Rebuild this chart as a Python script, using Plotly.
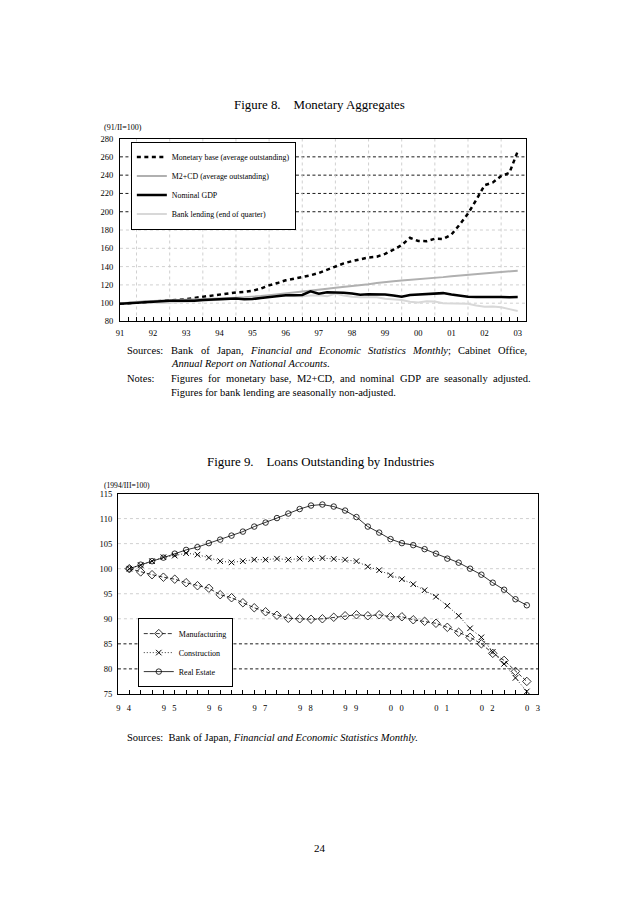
import re
import plotly.graph_objects as go

# ---------------- Figure 8 data (quarterly, 91/I .. 03/I) ----------------
fig8_quarter = list(range(49))
monetary_base = [99.5, 100, 100.8, 101.5, 102, 102.5, 103, 103.6, 104.3, 105.8,
                 107, 108.5, 110, 111.3, 111.8, 112.3, 113.5, 116, 119.5, 122,
                 125, 126.8, 128.5, 130.5, 133, 136.5, 140, 143.5, 146, 148,
                 150, 150.8, 154, 158.5, 163.5, 171.5, 168, 167.8, 170.5, 170.2,
                 175, 186, 198, 213, 229, 232, 239, 242.5, 266]
m2cd = [99.5, 100.5, 101.5, 102, 102.5, 102.8, 103, 103.2, 103.4, 103.8,
        104.2, 104.6, 105, 105.5, 106, 106.4, 106.8, 107.8, 108.8, 109.7,
        110.5, 111.4, 112.4, 113.6, 114.8, 115.8, 116.8, 117.6, 118.4, 119.6,
        120.8, 122.1, 123.4, 124.1, 124.8, 125.4, 126, 126.8, 127.6, 128.5,
        129.5, 130.3, 131, 131.6, 132.2, 133, 134, 134.8, 135.5]
nominal_gdp = [99.3, 100, 100.8, 101.3, 101.6, 102.2, 102.7, 102.5, 102.3, 102.8,
               103.4, 104, 104.5, 105, 105.2, 104.3, 104.5, 105.8, 107, 108.2,
               108.8, 108.8, 109, 113, 110.3, 112, 112, 111.5, 110.5, 109.2,
               109.8, 110, 109.5, 108.5, 107, 109, 109.5, 109.7, 110.5, 111,
               109.5, 108, 107, 106.8, 107, 107, 106.8, 106.6, 106.8]
bank_lending = [99.8, 101, 101.6, 101, 100.5, 100.3, 100.6, 101, 101.5, 102.2,
                102.7, 103.2, 103.8, 104.5, 105, 104.8, 105.5, 106.5, 107.5, 108,
                108, 107.8, 107.7, 108.3, 108.8, 107.5, 110.5, 108.5, 107, 106.5,
                106.2, 106.5, 104.8, 104, 103.5, 101.5, 100.8, 102, 101.8, 100,
                99.8, 99.6, 99.3, 97.5, 96, 96.3, 95.5, 93.5, 91.5]
fig8_xtick_pos = [0, 4, 8, 12, 16, 20, 24, 28, 32, 36, 40, 44, 48]
fig8_xtick_labels = ["91", "92", "93", "94", "95", "96", "97", "98", "99", "00", "01", "02", "03"]
fig8_vgrid = [2, 6, 10, 14, 18, 22, 26, 30, 34, 38, 42, 46]
fig8_yticks = [80, 100, 120, 140, 160, 180, 200, 220, 240, 260, 280]
fig8_light_grid = [100, 120, 140, 160, 180]
fig8_dark_grid = [200, 220, 240, 260]

# ---------------- Figure 9 data (quarterly, 94/III .. 03/II) ----------------
fig9_quarter = list(range(36))
manufacturing = [100.0, 99.35, 98.8, 98.3, 97.9, 97.2, 96.6, 96.1, 94.8, 94.2,
                 93.2, 92.2, 91.4, 90.7, 90.1, 90.0, 89.9, 90.0, 90.3, 90.6,
                 90.8, 90.6, 90.8, 90.4, 90.4, 89.8, 89.5, 89.1, 88.3, 87.3,
                 86.3, 85.0, 83.1, 81.7, 79.5, 77.5]
construction = [100.0, 100.7, 101.5, 102.3, 102.6, 103.1, 102.8, 102.2, 101.5, 101.25,
                101.5, 101.8, 101.8, 102.0, 101.8, 102.0, 101.9, 102.1, 101.95, 101.8,
                101.5, 100.4, 99.7, 98.7, 97.9, 96.9, 95.7, 94.4, 92.6, 90.6,
                88.1, 86.3, 83.4, 81.0, 78.2, 75.5]
real_estate = [100.0, 100.8, 101.5, 102.2, 103.0, 103.75, 104.3, 105.1, 105.8, 106.6,
               107.4, 108.4, 109.2, 110.1, 111.0, 111.9, 112.6, 112.8, 112.4, 111.6,
               110.3, 108.4, 107.2, 105.9, 105.1, 104.7, 103.9, 103.0, 102.0, 101.2,
               100.0, 98.8, 97.2, 95.8, 93.9, 92.7]
fig9_xtick_pos = [-0.5, 3.5, 7.5, 11.5, 15.5, 19.5, 23.5, 27.5, 31.5, 35.5]
fig9_xtick_labels = ["9\u00a0\u00a0\u00a04", "9\u00a0\u00a0\u00a05", "9\u00a0\u00a0\u00a06",
                     "9\u00a0\u00a0\u00a07", "9\u00a0\u00a0\u00a08", "9\u00a0\u00a0\u00a09",
                     "0\u00a0\u00a0\u00a00", "0\u00a0\u00a0\u00a01", "0\u00a0\u00a0\u00a02",
                     "0\u00a0\u00a0\u00a03"]
fig9_yticks = [75, 80, 85, 90, 95, 100, 105, 110, 115]
fig9_light_grid = [90, 95, 100, 105, 110]
fig9_dark_grid = [80, 85]

# justified note lines (words)
sources_line1 = ["Bank", "of", "Japan,", "<i>Financial</i>", "<i>and</i>", "<i>Economic</i>",
                 "<i>Statistics</i>", "<i>Monthly</i>;", "Cabinet", "Office,"]
notes_line1 = ["Figures", "for", "monetary", "base,", "M2+CD,", "and", "nominal", "GDP",
               "are", "seasonally", "adjusted."]

SERIF = "Liberation Serif, Times New Roman, serif"
OFF = 8            # default page body margin
W, H = 638 - 2 * OFF, 903 - 2 * OFF

# Times-compatible advance widths (1/1000 em) used to justify text lines
_TW = {
    'a': 444, 'b': 500, 'c': 444, 'd': 500, 'e': 444, 'f': 333, 'g': 500, 'h': 500,
    'i': 278, 'j': 278, 'k': 500, 'l': 278, 'm': 778, 'n': 500, 'o': 500, 'p': 500,
    'q': 500, 'r': 333, 's': 389, 't': 278, 'u': 500, 'v': 500, 'w': 722, 'x': 500,
    'y': 500, 'z': 444, 'B': 667, 'J': 389, 'F': 556, 'E': 611, 'S': 556, 'M': 889,
    'C': 667, 'O': 722, 'G': 722, 'D': 722, 'P': 556, 'A': 722, 'N': 722, 'R': 667,
    ',': 250, '.': 250, ';': 278, '+': 564, '2': 500, ' ': 250,
}


def text_w(s, size):
    s = re.sub("<[^>]+>", "", s)
    return sum(_TW.get(c, 500) for c in s) / 1000.0 * size


def justify(words, x0, x1, size):
    widths = [text_w(w, size) for w in words]
    gap = (x1 - x0 - sum(widths)) / (len(words) - 1)
    xs, x = [], x0
    for w in widths:
        xs.append(x)
        x += w + gap
    return xs


def px(x):
    return (x - OFF) / W


def py(y):
    return 1 - (y - OFF) / H


fig = go.Figure()

# Figure 8 traces
fig.add_trace(go.Scatter(x=fig8_quarter, y=monetary_base, mode="lines",
                         name="Monetary base (average outstanding)",
                         line=dict(color="black", width=2.5, dash="4px,3.5px"),
                         xaxis="x", yaxis="y", legend="legend", legendrank=1))
fig.add_trace(go.Scatter(x=fig8_quarter, y=m2cd, mode="lines",
                         name="M2+CD (average outstanding)",
                         line=dict(color="#b0b0b0", width=2),
                         xaxis="x", yaxis="y", legend="legend", legendrank=2))
fig.add_trace(go.Scatter(x=fig8_quarter, y=bank_lending, mode="lines",
                         name="Bank lending (end of quarter)",
                         line=dict(color="#d8d8d8", width=2),
                         xaxis="x", yaxis="y", legend="legend", legendrank=4))
fig.add_trace(go.Scatter(x=fig8_quarter, y=nominal_gdp, mode="lines",
                         name="Nominal GDP",
                         line=dict(color="black", width=2.5),
                         xaxis="x", yaxis="y", legend="legend", legendrank=3))

# Figure 9 traces
fig.add_trace(go.Scatter(x=fig9_quarter, y=manufacturing, mode="lines+markers",
                         name="Manufacturing",
                         line=dict(color="black", width=0.8, dash="4px,2px"),
                         marker=dict(symbol="diamond-open", size=6.5, color="black",
                                     line=dict(width=0.8, color="black")),
                         xaxis="x2", yaxis="y2", legend="legend2"))
fig.add_trace(go.Scatter(x=fig9_quarter, y=construction, mode="lines+markers",
                         name="Construction",
                         line=dict(color="black", width=0.8, dash="1px,2px"),
                         marker=dict(symbol="x-thin-open", size=5.5, color="black",
                                     line=dict(width=1, color="black")),
                         xaxis="x2", yaxis="y2", legend="legend2"))
fig.add_trace(go.Scatter(x=fig9_quarter, y=real_estate, mode="lines+markers",
                         name="Real Estate",
                         line=dict(color="black", width=0.8),
                         marker=dict(symbol="circle-open", size=5.5, color="black",
                                     line=dict(width=0.8, color="black")),
                         xaxis="x2", yaxis="y2", legend="legend2"))

axis_common = dict(showline=True, linecolor="black", linewidth=1, mirror=True,
                   zeroline=False, showgrid=False)
tickfont = dict(family=SERIF, size=8.5, color="black")

shapes = []
for v in fig8_light_grid:
    shapes.append(dict(type="line", xref="x domain", yref="y", x0=0, x1=1, y0=v, y1=v,
                       line=dict(color="#c4c4c4", width=0.8, dash="3px,3px"), layer="below"))
for v in fig8_dark_grid:
    shapes.append(dict(type="line", xref="x domain", yref="y", x0=0, x1=1, y0=v, y1=v,
                       line=dict(color="black", width=0.9, dash="3px,2.5px"), layer="below"))
for v in fig8_vgrid:
    shapes.append(dict(type="line", xref="x", yref="y domain", x0=v, x1=v, y0=0, y1=1,
                       line=dict(color="#c4c4c4", width=0.8, dash="3px,3px"), layer="below"))
for v in fig9_light_grid:
    shapes.append(dict(type="line", xref="x2 domain", yref="y2", x0=0, x1=1, y0=v, y1=v,
                       line=dict(color="#c4c4c4", width=0.8, dash="3px,3px"), layer="below"))
for v in fig9_dark_grid:
    shapes.append(dict(type="line", xref="x2 domain", yref="y2", x0=0, x1=1, y0=v, y1=v,
                       line=dict(color="black", width=0.9, dash="3px,2.5px"), layer="below"))


def ann(text, x, y, size, xanchor="left", yanchor="middle"):
    return dict(text=text, x=px(x), y=py(y), xref="paper", yref="paper",
                xanchor=xanchor, yanchor=yanchor, showarrow=False,
                font=dict(family=SERIF, size=size, color="black"))


NOTE = 10.5
TITLE = 12.9
annotations = [
    ann("Figure 8.\u00a0\u00a0\u00a0\u00a0Monetary Aggregates", 318, 101, TITLE, "center"),
    ann("(91/II=100)", 99, 124, 8),
    ann("Sources:", 122, 349, NOTE),
    ann("<i>Annual Report on National Accounts</i>.", 167, 363, NOTE),
    ann("Notes:", 122, 378, NOTE),
    ann("Figures for bank lending are seasonally non-adjusted.", 167, 392, NOTE),
    ann("Figure 9.\u00a0\u00a0\u00a0\u00a0Loans Outstanding by Industries", 319, 462, TITLE, "center"),
    ann("(1994/III=100)", 99, 486, 7.6),
    ann("Sources:\u00a0\u00a0Bank of Japan, <i>Financial and Economic Statistics Monthly.</i>", 122, 741, NOTE),
    ann("24", 319, 853, 11, "center"),
]
for word, wx in zip(sources_line1, justify(sources_line1, 167, 526, NOTE)):
    annotations.append(ann(word, wx, 349, NOTE))
for word, wx in zip(notes_line1, justify(notes_line1, 167, 529, NOTE)):
    annotations.append(ann(word, wx, 378, NOTE))

fig.update_layout(
    width=W, height=H,
    margin=dict(l=0, r=0, t=0, b=0),
    paper_bgcolor="white", plot_bgcolor="white",
    showlegend=True,
    xaxis=dict(domain=[px(117), px(527)], range=[0, 49], anchor="y",
               tickmode="array", tickvals=fig8_xtick_pos, ticktext=fig8_xtick_labels,
               ticks="inside", ticklen=4, tickcolor="black", tickwidth=1,
               minor=dict(ticks="inside", ticklen=4, tickcolor="black", tickwidth=1,
                          tick0=0, dtick=1, showgrid=False),
               tickfont=tickfont, ticklabelstandoff=3, **axis_common),
    yaxis=dict(domain=[py(320), py(135)], range=[80, 280], anchor="x",
               tickmode="array", tickvals=fig8_yticks, ticks="",
               tickfont=tickfont, ticklabelstandoff=4, **axis_common),
    xaxis2=dict(domain=[px(115), px(539.3)], range=[-1, 36], anchor="y2",
                tickmode="array", tickvals=fig9_xtick_pos, ticktext=fig9_xtick_labels,
                ticks="",
                minor=dict(ticks="inside", ticklen=4, tickcolor="black", tickwidth=1,
                           tick0=0, dtick=1, showgrid=False),
                tickfont=tickfont, ticklabelstandoff=6, **axis_common),
    yaxis2=dict(domain=[py(696.7), py(494)], range=[75, 115], anchor="x2",
                tickmode="array", tickvals=fig9_yticks, ticks="",
                tickfont=tickfont, ticklabelstandoff=3, **axis_common),
    legend=dict(x=px(128), y=py(138), xanchor="left", yanchor="top",
                bgcolor="white", bordercolor="black", borderwidth=1,
                font=dict(family=SERIF, size=7.9, color="black"),
                traceorder="normal", itemwidth=30),
    legend2=dict(x=px(135), y=py(620), xanchor="left", yanchor="top",
                 bgcolor="white", bordercolor="black", borderwidth=1,
                 font=dict(family=SERIF, size=8, color="black"),
                 traceorder="normal", itemwidth=30),
    shapes=shapes,
    annotations=annotations,
)

fig.write_html("out.html")
